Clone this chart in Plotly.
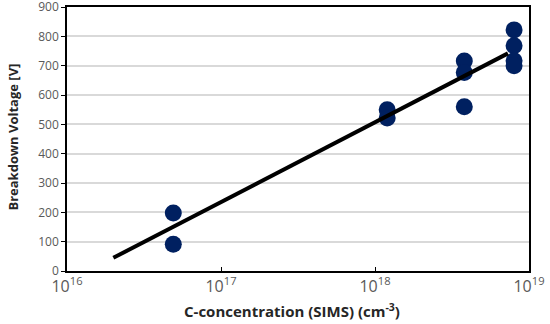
import plotly.graph_objects as go

conc = [4.9e16, 4.9e16, 1.2e18, 1.2e18, 3.8e18, 3.8e18, 3.8e18, 8.0e18, 8.0e18, 8.0e18, 8.0e18]
vbd = [198, 91, 550, 522, 716, 677, 560, 822, 768, 717, 700]
fit_x = [2.0e16, 7.3e18]
fit_y = [45, 742]
xtick_vals = [1e16, 1e17, 1e18, 1e19]
xtick_text = ["10<sup>16</sup>", "10<sup>17</sup>", "10<sup>18</sup>", "10<sup>19</sup>"]

fig = go.Figure()
fig.add_trace(go.Scatter(x=conc, y=vbd, mode="markers",
                         marker=dict(size=17, color="#002060"), showlegend=False))
fig.add_trace(go.Scatter(x=fit_x, y=fit_y, mode="lines",
                         line=dict(color="black", width=4), showlegend=False))

fig.update_layout(
    width=550, height=324,
    margin=dict(l=67, r=21, t=7, b=53, autoexpand=False),
    paper_bgcolor="white", plot_bgcolor="white",
    font=dict(family="Open Sans", color="#595959"),
    xaxis=dict(type="log", range=[16, 19], tickvals=xtick_vals, ticktext=xtick_text,
               tickfont=dict(size=16, color="#595959"), automargin=False,
               ticklabeloverflow="allow",
               showline=True, linecolor="black", linewidth=1.5, mirror=True,
               ticks="inside", ticklen=4, tickcolor="black", showgrid=False, zeroline=False),
    yaxis=dict(range=[0, 900], dtick=100, tickfont=dict(size=12, color="#595959"),
               automargin=False, ticklabeloverflow="allow",
               showline=True, linecolor="black", linewidth=1.5, mirror=True,
               ticks="outside", ticklen=4, tickcolor="black",
               showgrid=True, gridcolor="#d9d9d9", gridwidth=1.5, zeroline=False),
    annotations=[
        dict(text="<b>Breakdown Voltage [V]</b>", xref="paper", yref="paper",
             x=-0.117, y=0.509, textangle=-90, showarrow=False,
             xanchor="center", yanchor="middle",
             font=dict(size=13, color="#262626")),
        dict(text="<b>C-concentration (SIMS) (cm<sup>-3</sup>)</b>", xref="paper", yref="paper",
             x=0.487, y=-0.148, showarrow=False, xanchor="center", yanchor="middle",
             font=dict(size=15, color="#262626")),
    ],
)
fig.write_html("out.html", config={"displayModeBar": False},
               post_script="document.body.style.margin='0px';")
